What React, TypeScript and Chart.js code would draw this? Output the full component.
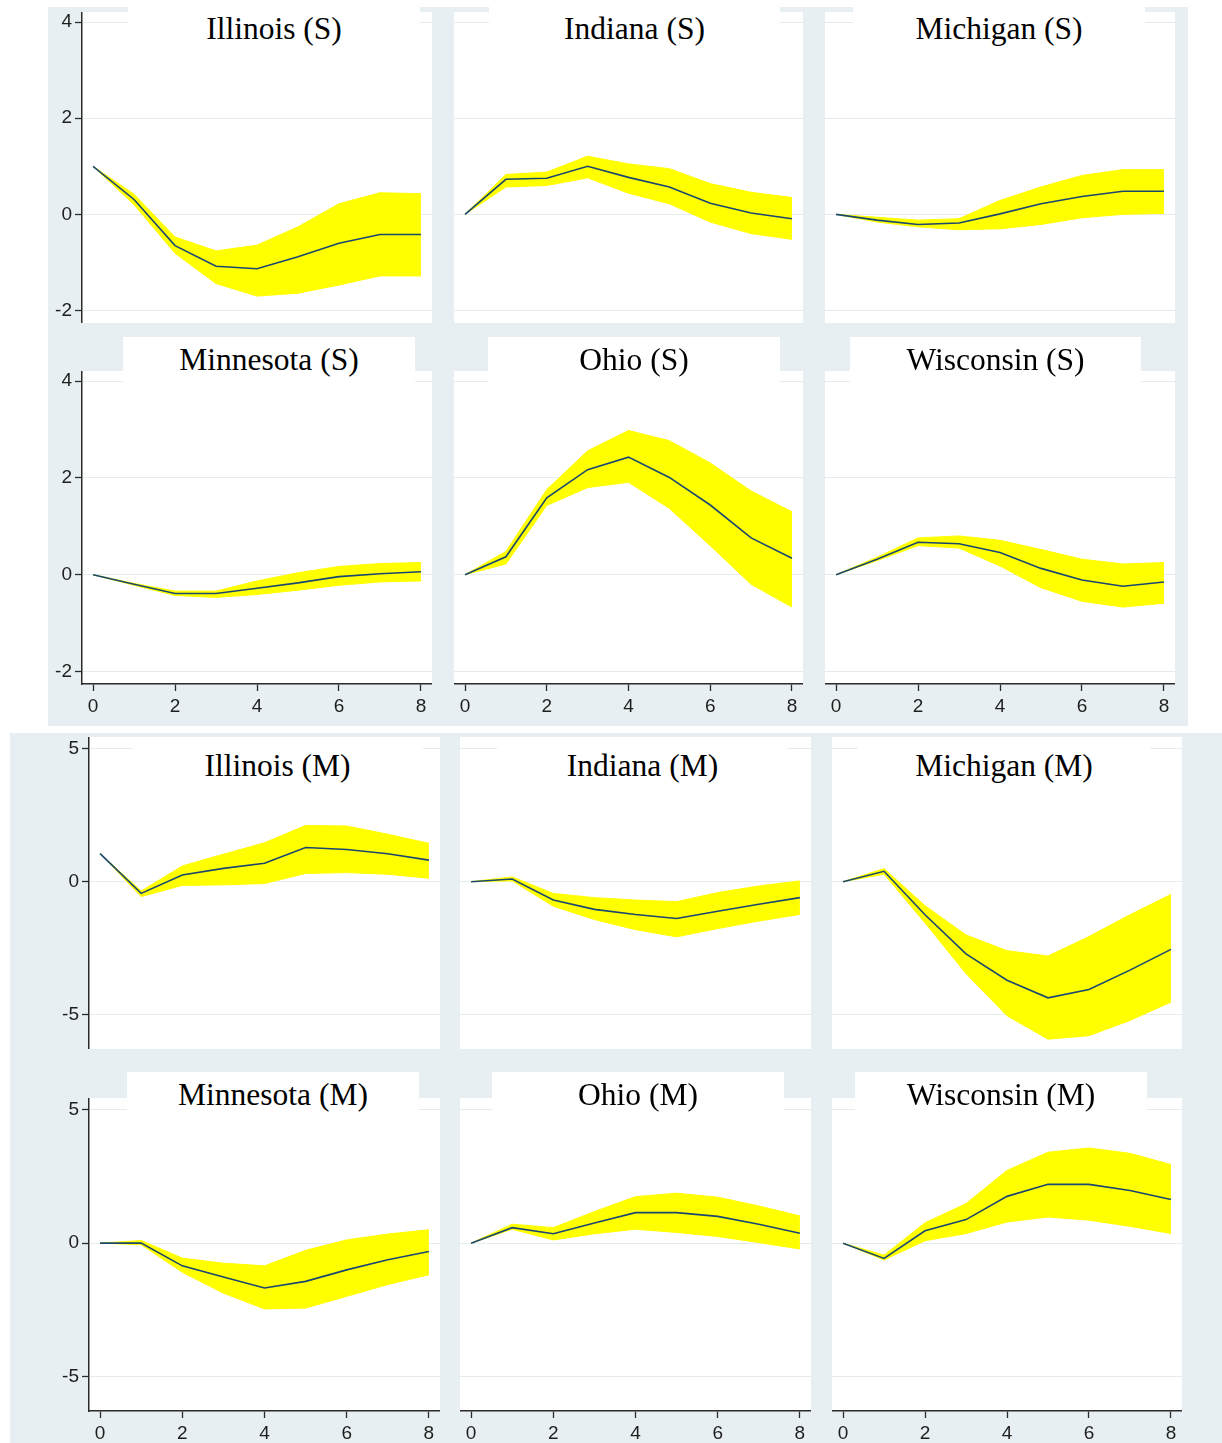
import React, { useEffect, useRef } from "react";
import { Chart, registerables } from "chart.js";

Chart.register(...registerables);

// ---------- data ----------
const horizons = [0, 1, 2, 3, 4, 5, 6, 7, 8];
const xTicks = [0, 2, 4, 6, 8];
const yTicksS = [-2, 0, 2, 4];
const yTicksM = [-5, 0, 5];

// Illinois (S)
const ilSMean = [1.0, 0.31, -0.65, -1.08, -1.13, -0.88, -0.6, -0.42, -0.42];
const ilSUpper = [1.0, 0.42, -0.47, -0.76, -0.64, -0.26, 0.22, 0.45, 0.43];
const ilSLower = [1.0, 0.2, -0.81, -1.44, -1.7, -1.64, -1.47, -1.28, -1.28];
// Indiana (S)
const inSMean = [0, 0.73, 0.75, 1.0, 0.77, 0.57, 0.23, 0.03, -0.09];
const inSUpper = [0, 0.83, 0.88, 1.21, 1.05, 0.95, 0.64, 0.46, 0.35];
const inSLower = [0, 0.57, 0.6, 0.76, 0.44, 0.22, -0.16, -0.4, -0.52];
// Michigan (S)
const miSMean = [0, -0.12, -0.21, -0.18, 0.01, 0.22, 0.37, 0.48, 0.48];
const miSUpper = [0, -0.06, -0.12, -0.09, 0.29, 0.57, 0.81, 0.93, 0.93];
const miSLower = [0, -0.16, -0.26, -0.32, -0.3, -0.21, -0.07, 0.0, 0.02];
// Minnesota (S)
const mnSMean = [0, -0.2, -0.39, -0.39, -0.28, -0.17, -0.04, 0.02, 0.06];
const mnSUpper = [0, -0.18, -0.34, -0.34, -0.13, 0.04, 0.17, 0.23, 0.25];
const mnSLower = [0, -0.22, -0.43, -0.47, -0.41, -0.32, -0.22, -0.15, -0.13];
// Ohio (S)
const ohSMean = [0, 0.37, 1.59, 2.17, 2.43, 2.01, 1.44, 0.76, 0.34];
const ohSUpper = [0, 0.48, 1.76, 2.56, 2.98, 2.77, 2.31, 1.73, 1.3];
const ohSLower = [0, 0.22, 1.43, 1.8, 1.91, 1.37, 0.6, -0.2, -0.67];
// Wisconsin (S)
const wiSMean = [0, 0.32, 0.67, 0.64, 0.46, 0.13, -0.11, -0.24, -0.15];
const wiSUpper = [0, 0.36, 0.76, 0.8, 0.71, 0.52, 0.32, 0.22, 0.25];
const wiSLower = [0, 0.29, 0.6, 0.55, 0.18, -0.27, -0.55, -0.67, -0.59];
// Illinois (M)
const ilMMean = [1.05, -0.44, 0.25, 0.5, 0.69, 1.28, 1.21, 1.05, 0.81];
const ilMUpper = [1.05, -0.35, 0.59, 1.03, 1.46, 2.11, 2.09, 1.78, 1.44];
const ilMLower = [1.05, -0.56, -0.14, -0.12, -0.07, 0.31, 0.34, 0.28, 0.13];
// Indiana (M)
const inMMean = [0, 0.1, -0.69, -1.04, -1.23, -1.38, -1.11, -0.85, -0.6];
const inMUpper = [0, 0.18, -0.44, -0.6, -0.69, -0.75, -0.41, -0.16, 0.03];
const inMLower = [0, 0.03, -0.92, -1.42, -1.8, -2.07, -1.76, -1.48, -1.23];
// Michigan (M)
const miMMean = [0, 0.39, -1.24, -2.71, -3.7, -4.36, -4.05, -3.32, -2.54];
const miMUpper = [0, 0.49, -0.9, -2.0, -2.59, -2.79, -2.06, -1.24, -0.48];
const miMLower = [0, 0.28, -1.55, -3.45, -5.03, -5.91, -5.78, -5.21, -4.52];
// Minnesota (M)
const mnMMean = [0, 0.0, -0.85, -1.27, -1.68, -1.43, -1.0, -0.62, -0.31];
const mnMUpper = [0, 0.1, -0.56, -0.75, -0.85, -0.27, 0.12, 0.34, 0.5];
const mnMLower = [0, -0.06, -1.09, -1.87, -2.46, -2.43, -1.99, -1.55, -1.18];
// Ohio (M)
const ohMMean = [0, 0.58, 0.35, 0.75, 1.14, 1.14, 1.0, 0.71, 0.37];
const ohMUpper = [0, 0.71, 0.58, 1.18, 1.74, 1.87, 1.72, 1.39, 1.02];
const ohMLower = [0, 0.52, 0.12, 0.35, 0.52, 0.4, 0.25, 0.02, -0.22];
// Wisconsin (M)
const wiMMean = [0, -0.57, 0.46, 0.88, 1.75, 2.2, 2.2, 1.97, 1.63];
const wiMUpper = [0, -0.45, 0.76, 1.48, 2.72, 3.4, 3.56, 3.36, 2.94];
const wiMLower = [0, -0.63, 0.09, 0.36, 0.79, 0.98, 0.86, 0.63, 0.36];

// ---------- styles / layout ----------
const BG = "#e8eff2";
const GRID = "#e4ecf0";
const AXIS = "#2b2b2b";
const TEXT = "#1e1e1e";
const BAND = "#ffff00";
const LINE = "#1a476f";

type Block = {
  yMin: number;
  yMax: number;
  yTicks: number[];
  rows: [number, number][];
  cols: [number, number][];
  boxRows: [number, number][];
  boxCols: [number, number][][];
};

const blockS: Block = {
  yMin: -2.26,
  yMax: 4.21,
  yTicks: yTicksS,
  rows: [
    [12, 323],
    [371, 684],
  ],
  cols: [
    [82, 432],
    [454, 803],
    [825, 1175],
  ],
  boxRows: [
    [6, 52],
    [337, 382],
  ],
  boxCols: [
    [
      [128, 420],
      [489, 780],
      [853, 1145],
    ],
    [
      [123, 415],
      [488, 780],
      [850, 1141],
    ],
  ],
};

const blockM: Block = {
  yMin: -6.28,
  yMax: 5.43,
  yTicks: yTicksM,
  rows: [
    [737, 1049],
    [1098, 1411],
  ],
  cols: [
    [89, 440],
    [460, 811],
    [832, 1182],
  ],
  boxRows: [
    [738, 794],
    [1072, 1118],
  ],
  boxCols: [
    [
      [132, 423],
      [497, 788],
      [858, 1150],
    ],
    [
      [127, 419],
      [492, 784],
      [855, 1147],
    ],
  ],
};

const X_MIN = -0.27;
const X_MAX = 8.27;
const Y_AXIS_W = 40;
const X_AXIS_H = 34;

type Panel = {
  title: string;
  mean: number[];
  upper: number[];
  lower: number[];
  block: Block;
  row: number;
  col: number;
};

const panels: Panel[] = [
  { title: "Illinois (S)", mean: ilSMean, upper: ilSUpper, lower: ilSLower, block: blockS, row: 0, col: 0 },
  { title: "Indiana (S)", mean: inSMean, upper: inSUpper, lower: inSLower, block: blockS, row: 0, col: 1 },
  { title: "Michigan (S)", mean: miSMean, upper: miSUpper, lower: miSLower, block: blockS, row: 0, col: 2 },
  { title: "Minnesota (S)", mean: mnSMean, upper: mnSUpper, lower: mnSLower, block: blockS, row: 1, col: 0 },
  { title: "Ohio (S)", mean: ohSMean, upper: ohSUpper, lower: ohSLower, block: blockS, row: 1, col: 1 },
  { title: "Wisconsin (S)", mean: wiSMean, upper: wiSUpper, lower: wiSLower, block: blockS, row: 1, col: 2 },
  { title: "Illinois (M)", mean: ilMMean, upper: ilMUpper, lower: ilMLower, block: blockM, row: 0, col: 0 },
  { title: "Indiana (M)", mean: inMMean, upper: inMUpper, lower: inMLower, block: blockM, row: 0, col: 1 },
  { title: "Michigan (M)", mean: miMMean, upper: miMUpper, lower: miMLower, block: blockM, row: 0, col: 2 },
  { title: "Minnesota (M)", mean: mnMMean, upper: mnMUpper, lower: mnMLower, block: blockM, row: 1, col: 0 },
  { title: "Ohio (M)", mean: ohMMean, upper: ohMUpper, lower: ohMLower, block: blockM, row: 1, col: 1 },
  { title: "Wisconsin (M)", mean: wiMMean, upper: wiMUpper, lower: wiMLower, block: blockM, row: 1, col: 2 },
];

const whitePlot = {
  id: "whitePlot",
  beforeDraw(chart: any) {
    const a = chart.chartArea;
    const ctx = chart.ctx;
    ctx.save();
    ctx.fillStyle = "#ffffff";
    ctx.fillRect(a.left, a.top, a.right - a.left, a.bottom - a.top);
    ctx.restore();
  },
};

const tickFont = { family: "'Liberation Sans', Arial, sans-serif", size: 19 };

function PanelChart({ p }: { p: Panel }) {
  const ref = useRef<HTMLCanvasElement | null>(null);
  const b = p.block;
  const showY = p.col === 0;
  const showX = p.row === 1;
  const [pl, pr] = b.cols[p.col];
  const [pt, pb] = b.rows[p.row];
  const yw = showY ? Y_AXIS_W : 0;
  const xh = showX ? X_AXIS_H : 0;
  const left = pl - yw;
  const top = pt;
  const w = pr - pl + yw;
  const h = pb - pt + xh;

  useEffect(() => {
    const pts = (arr: number[]) => horizons.map((x, i) => ({ x, y: arr[i] }));
    const chart = new Chart(ref.current as HTMLCanvasElement, {
      type: "line",
      data: {
        datasets: [
          {
            label: "mean",
            data: pts(p.mean),
            borderColor: LINE,
            borderWidth: 1.6,
            pointRadius: 0,
            fill: false,
            tension: 0,
          },
          {
            label: "upper",
            data: pts(p.upper),
            borderColor: BAND,
            borderWidth: 1,
            backgroundColor: BAND,
            pointRadius: 0,
            fill: "+1",
            tension: 0,
          },
          {
            label: "lower",
            data: pts(p.lower),
            borderColor: BAND,
            borderWidth: 1,
            pointRadius: 0,
            fill: false,
            tension: 0,
          },
        ],
      },
      options: {
        animation: false,
        responsive: false,
        maintainAspectRatio: false,
        devicePixelRatio: 1,
        events: [],
        layout: { padding: 0 },
        plugins: {
          legend: { display: false },
          tooltip: { enabled: false },
          title: { display: false },
        },
        scales: {
          x: {
            type: "linear",
            min: X_MIN,
            max: X_MAX,
            display: showX,
            afterBuildTicks: (s: any) => {
              s.ticks = xTicks.map((v) => ({ value: v }));
            },
            afterFit: (s: any) => {
              s.height = xh;
              s.paddingLeft = 0;
              s.paddingRight = 0;
            },
            grid: {
              drawOnChartArea: false,
              drawTicks: true,
              tickLength: 7,
              tickColor: AXIS,
              tickWidth: 1.3,
            },
            border: { display: true, color: AXIS, width: 1.5 },
            ticks: {
              padding: 4,
              maxRotation: 0,
              autoSkip: false,
              color: TEXT,
              font: tickFont,
              callback: (v: any) => String(v),
            },
          },
          y: {
            type: "linear",
            min: b.yMin,
            max: b.yMax,
            afterBuildTicks: (s: any) => {
              s.ticks = b.yTicks.map((v) => ({ value: v }));
            },
            afterFit: (s: any) => {
              s.width = yw;
              s.paddingTop = 0;
              s.paddingBottom = 0;
            },
            grid: {
              color: GRID,
              lineWidth: 1,
              drawTicks: showY,
              tickLength: 7,
              tickColor: AXIS,
              tickWidth: 1.3,
            },
            border: { display: showY, color: AXIS, width: 1.5 },
            ticks: {
              display: showY,
              padding: 3,
              color: TEXT,
              font: tickFont,
              callback: (v: any) => String(v),
            },
          },
        },
      } as any,
      plugins: [whitePlot],
    });
    return () => chart.destroy();
  }, []);

  return (
    <canvas
      ref={ref}
      width={w}
      height={h}
      style={{ position: "absolute", left, top, width: w, height: h, display: "block" }}
    />
  );
}

function TitleBox({ p }: { p: Panel }) {
  const b = p.block;
  const [bt, bb] = b.boxRows[p.row];
  const [bl, br] = b.boxCols[p.row][p.col];
  return (
    <div
      style={{
        position: "absolute",
        left: bl,
        top: bt,
        width: br - bl,
        height: bb - bt,
        background: "#ffffff",
        display: "flex",
        alignItems: "center",
        justifyContent: "center",
        fontFamily: "'Liberation Serif', 'Times New Roman', serif",
        fontSize: 31.5,
        color: "#000",
        lineHeight: 1,
        whiteSpace: "nowrap",
      }}
    >
      {p.title}
    </div>
  );
}

export default function App() {
  return (
    <div
      style={{
        position: "absolute",
        left: 0,
        top: 0,
        width: 1222,
        height: 1443,
        overflow: "hidden",
        background: "#ffffff",
      }}
    >
      <div style={{ position: "absolute", left: 48, top: 7, width: 1140, height: 719, background: BG }} />
      <div style={{ position: "absolute", left: 10, top: 733, width: 1212, height: 710, background: BG }} />
      {panels.map((p) => (
        <PanelChart key={p.title} p={p} />
      ))}
      {panels.map((p) => (
        <TitleBox key={"t" + p.title} p={p} />
      ))}
    </div>
  );
}
